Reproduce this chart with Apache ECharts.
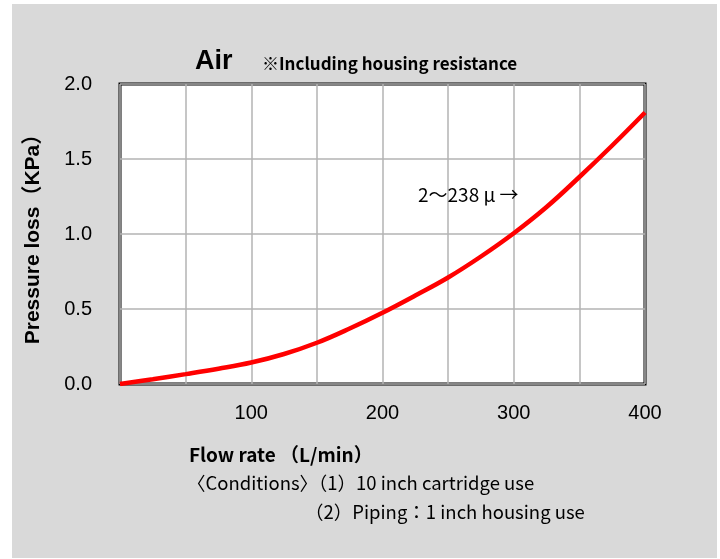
<!DOCTYPE html>
<html><head><meta charset="utf-8">
<script src="https://cdn.jsdelivr.net/npm/echarts@6/dist/echarts.min.js"></script>
<style>html,body{margin:0;padding:0;background:#fff;}#c{width:720px;height:559px;}</style>
</head><body><div id="c"></div>
<script>
const flowRates = [0, 25, 50, 75, 100, 125, 150, 175, 200, 225, 250, 275, 300, 325, 350, 375, 400];
const pressureLoss = [0, 0.032, 0.066, 0.102, 0.143, 0.20, 0.275, 0.37, 0.475, 0.59, 0.71, 0.85, 1.005, 1.18, 1.38, 1.59, 1.81];
const xTickLabels = [100, 200, 300, 400];
const yTicks = [0, 0.5, 1.0, 1.5, 2.0];
const titleText = 'Air';
const noteText = '※Including housing resistance';
const yName = 'Pressure loss（KPa）';
const xName = 'Flow rate （L/min）';
const cond1 = '〈Conditions〉（1）10 inch cartridge use';
const cond2 = '（2）Piping：1 inch housing use';
const annot = '2～238 μ →';

const chart = echarts.init(document.getElementById('c'));
const jp = '"Noto Sans CJK JP", "Noto Sans", sans-serif';
const arial = '"Liberation Sans", Arial, sans-serif';
chart.setOption({
  animation: false,
  backgroundColor: '#fff',
  grid: { left: 120, top: 84, right: 75, bottom: 175, show: true, backgroundColor: '#fff', borderColor: '#000', borderWidth: 3, z: 0 },
  xAxis: {
    type: 'value', min: 0, max: 400, interval: 50, z: 3,
    axisLine: { show: false }, axisTick: { show: false },
    splitLine: { show: true, lineStyle: { color: '#b3b3b3', width: 1.5 } },
    axisLabel: {
      margin: 19, fontSize: 20, color: '#000', fontFamily: arial,
      formatter: v => xTickLabels.includes(v) ? String(v) : ''
    }
  },
  yAxis: {
    type: 'value', min: 0, max: 2, interval: 0.5, z: 3,
    axisLine: { show: false }, axisTick: { show: false },
    splitLine: { show: true, lineStyle: { color: '#b3b3b3', width: 1.5 } },
    axisLabel: {
      margin: 28, fontSize: 20, color: '#000', fontFamily: arial,
      formatter: v => yTicks.includes(v) ? v.toFixed(1) : ''
    },
    name: yName, nameLocation: 'middle', nameGap: 76, nameRotate: 90,
    nameTextStyle: { fontSize: 21, fontWeight: 'bold', color: '#000', fontFamily: arial + ', ' + jp }
  },
  series: [{
    type: 'line', smooth: 0.4, showSymbol: false,
    data: flowRates.map((x, i) => [x, pressureLoss[i]]),
    lineStyle: { color: '#ff0000', width: 4.5 }, z: 5
  }],
  graphic: [
    { type: 'rect', z: -10, shape: { x: 12, y: 4, width: 705, height: 554 }, style: { fill: '#d9d9d9' } },
    { type: 'text', z: 10, x: 195, y: 62, style: { text: titleText, fontSize: 27, fontWeight: 'bold', fill: '#000', fontFamily: arial, textVerticalAlign: 'middle' } },
    { type: 'text', z: 10, x: 262, y: 64, style: { text: noteText, fontSize: 17, fontWeight: 'bold', fill: '#000', fontFamily: jp, textVerticalAlign: 'middle' } },
    { type: 'text', z: 10, x: 418, y: 195, style: { text: annot, fontSize: 19, fill: '#000', fontFamily: jp, textVerticalAlign: 'middle' } },
    { type: 'text', z: 10, x: 189, y: 455, style: { text: xName, fontSize: 19, fontWeight: 'bold', fill: '#000', fontFamily: jp, textVerticalAlign: 'middle' } },
    { type: 'text', z: 10, x: 187, y: 483, style: { text: cond1, fontSize: 18.5, fill: '#000', fontFamily: jp, textVerticalAlign: 'middle' } },
    { type: 'text', z: 10, x: 305, y: 512, style: { text: cond2, fontSize: 18.5, fill: '#000', fontFamily: jp, textVerticalAlign: 'middle' } }
  ]
});
</script></body></html>
